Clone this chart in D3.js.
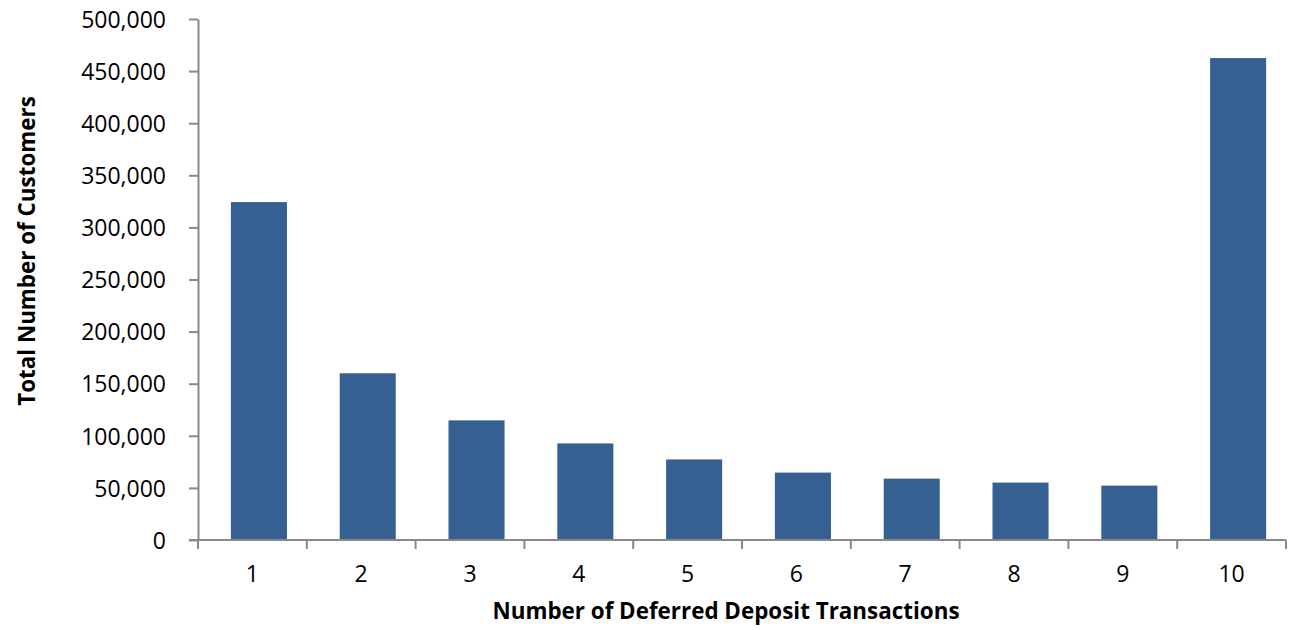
<!DOCTYPE html>
<html>
<head>
<meta charset="utf-8">
<script src="https://cdn.jsdelivr.net/npm/d3@7"></script>
<style>
	body { margin: 0; background: #fff; }
	svg text { font-family: "Open Sans", "Liberation Sans", sans-serif; fill: #000; }
	.axis path, .axis line { stroke: #898989; stroke-width: 2; }
</style>
</head>
<body>
<svg id="vis" width="1292" height="630"></svg>
<script>
// categories and values
const transactions = ["1", "2", "3", "4", "5", "6", "7", "8", "9", "10"];
const customers = [324300, 160000, 114800, 92700, 77300, 64700, 58900, 55100, 52200, 462500];
const yTicks = [0, 50000, 100000, 150000, 200000, 250000, 300000, 350000, 400000, 450000, 500000];

const svg = d3.select("svg#vis");

const plot = { left: 198, right: 1286, top: 19, bottom: 540 };

const x = d3.scaleBand()
	.domain(transactions)
	.range([plot.left, plot.right])
	.paddingInner(0.485)
	.paddingOuter(0.2425);

const y = d3.scaleLinear()
	.domain([0, 500000])
	.range([plot.bottom, plot.top]);

// bars sit a little right of the band centre in the original
const barShift = x.step() * 0.06;

svg.append("g").selectAll("rect")
	.data(customers)
	.enter()
	.append("rect")
	.attr("x", (d, i) => x(transactions[i]) + barShift)
	.attr("y", d => y(d))
	.attr("width", x.bandwidth())
	.attr("height", d => y(0) - y(d))
	.attr("fill", "#366092");

// y axis
const yAxis = svg.append("g")
	.attr("class", "axis")
	.attr("transform", translate(plot.left, 0))
	.call(d3.axisLeft(y)
		.tickValues(yTicks)
		.tickFormat(d3.format(","))
		.tickSize(9)
		.tickSizeOuter(0)
		.tickPadding(23));

yAxis.selectAll("text")
	.style("font-size", "23px")
	.attr("dy", "0.36em");

// x axis: line with ticks at band boundaries
const bounds = d3.range(transactions.length + 1).map(i => plot.left + i * x.step());

const xAxis = svg.append("g").attr("class", "axis");

xAxis.append("line")
	.attr("x1", plot.left - 9)
	.attr("x2", plot.right)
	.attr("y1", y(0))
	.attr("y2", y(0));

xAxis.selectAll("line.tick")
	.data(bounds)
	.enter()
	.append("line")
	.attr("class", "tick")
	.attr("x1", d => d)
	.attr("x2", d => d)
	.attr("y1", y(0))
	.attr("y2", y(0) + 9);

xAxis.selectAll("text")
	.data(transactions)
	.enter()
	.append("text")
	.attr("x", d => x(d) + x.bandwidth() / 2)
	.attr("y", 582)
	.attr("text-anchor", "middle")
	.style("font-size", "23px")
	.text(d => d);

// axis titles
svg.append("text")
	.attr("x", 726)
	.attr("y", 619)
	.attr("text-anchor", "middle")
	.style("font-size", "22.4px")
	.style("font-weight", "bold")
	.text("Number of Deferred Deposit Transactions");

svg.append("text")
	.attr("transform", translate(35, 251) + " rotate(-90)")
	.attr("text-anchor", "middle")
	.style("font-size", "22.4px")
	.style("font-weight", "bold")
	.text("Total Number of Customers");

function translate(x, y) {
	return "translate(" + x + "," + y + ")";
}
</script>
</body>
</html>
